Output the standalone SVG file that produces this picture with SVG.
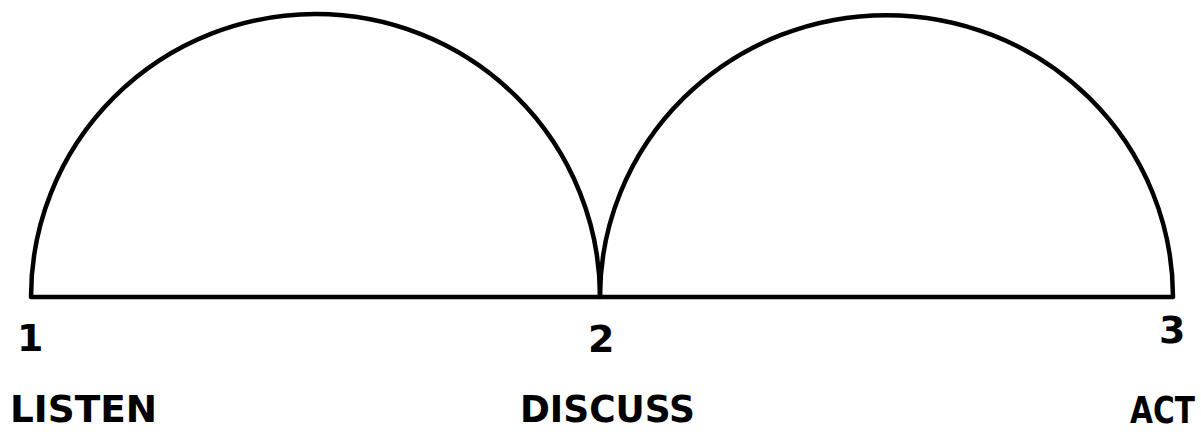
<svg xmlns="http://www.w3.org/2000/svg" width="1201" height="434" viewBox="0 0 1201 434">
<style>
.arc{fill:none;stroke:#000;stroke-width:4.5;stroke-linejoin:round}
.lbl{font-family:"DejaVu Sans","Liberation Sans",sans-serif;font-weight:bold;font-size:38px;fill:#000}
.num{font-family:"DejaVu Sans","Liberation Sans",sans-serif;font-weight:bold;font-size:38px;fill:#000}
</style>
<rect width="1201" height="434" fill="#fff"/>
<g id="connectors">
<path class="arc" d="M31,297 A284.5,283 0 0 1 600,297 Z"/>
<path class="arc" d="M600,297 A286.5,282 0 0 1 1173,297 Z"/>
</g>
<g id="node1">
<text class="num" x="17" y="351">1</text>
<text class="lbl" x="10" y="422" textLength="147" lengthAdjust="spacingAndGlyphs">LISTEN</text>
</g>
<g id="node2">
<text class="num" x="588" y="352">2</text>
<text class="lbl" x="520" y="422" textLength="175" lengthAdjust="spacingAndGlyphs">DISCUSS</text>
</g>
<g id="node3">
<text class="num" x="1159" y="343">3</text>
<text class="lbl" transform="translate(1130,423) scale(0.78,1)" x="0" y="0">ACT</text>
</g>
</svg>
